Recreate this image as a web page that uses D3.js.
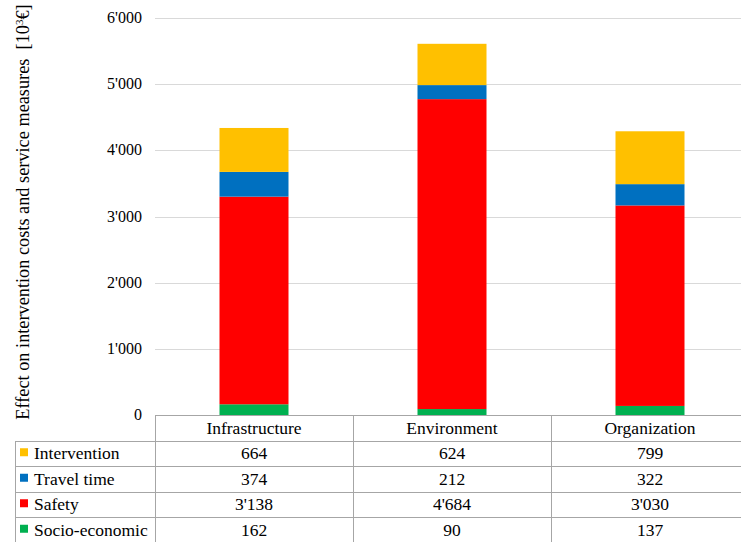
<!DOCTYPE html>
<html>
<head>
<meta charset="utf-8">
<script src="https://d3js.org/d3.v7.min.js"></script>
<style>
  body { margin: 0; background: #fff; }
  svg text { font-family: "Liberation Serif", "DejaVu Serif", serif; fill: #000; }
</style>
</head>
<body>
<div id="chart"></div>
<script>
"use strict"

var categories = ["Infrastructure", "Environment", "Organization"];
var series = ["Socio-economic", "Safety", "Travel time", "Intervention"];
var socioEconomic = [162, 90, 137];
var safety = [3138, 4684, 3030];
var travelTime = [374, 212, 322];
var intervention = [664, 624, 799];
var yTicks = [0, 1000, 2000, 3000, 4000, 5000, 6000];
var colors = ["#00B050", "#FF0000", "#0070C0", "#FFC000"];

var values = [socioEconomic, safety, travelTime, intervention];

var W = 741, H = 542;
var plotLeft = 155, plotRight = 749, plotTop = 18, plotBottom = 415;
var rowH = 25.5;
var serif = "'Liberation Serif', 'DejaVu Serif', serif";

var svg = d3.select("#chart").append("svg").attr("width", W).attr("height", H)
  .attr("font-family", serif);

var x = d3.scaleBand().domain(categories).range([plotLeft, plotRight]).paddingInner(0).paddingOuter(0);
var y = d3.scaleLinear().domain([0, 6000]).range([plotBottom, plotTop]);

var fmt = function(v) { return d3.format(",")(v).replace(/,/g, "'"); };

// grid
svg.append("g").selectAll("line").data(yTicks.filter(d => d > 0)).enter().append("line")
  .attr("x1", plotLeft).attr("x2", plotRight)
  .attr("y1", d => Math.round(y(d)) + 0.5).attr("y2", d => Math.round(y(d)) + 0.5)
  .attr("stroke", "#d9d9d9").attr("stroke-width", 1);

// tick labels
svg.append("g").selectAll("text").data(yTicks).enter().append("text")
  .attr("x", 142).attr("y", d => y(d) + 5)
  .attr("text-anchor", "end").attr("font-family", serif).style("font-size", "16px")
  .text(fmt);

// stacked bars
var rows = categories.map(function(c, i) {
  var r = {cat: c};
  series.forEach(function(s, j) { r[s] = values[j][i]; });
  return r;
});
var stacked = d3.stack().keys(series)(rows);
var barW = 69;

svg.append("g").selectAll("g").data(stacked).enter().append("g")
  .attr("fill", (d, i) => colors[i])
  .selectAll("rect").data(d => d).enter().append("rect")
    .attr("x", d => x(d.data.cat) + x.bandwidth() / 2 - barW / 2)
    .attr("width", barW)
    .attr("y", d => y(d[1]))
    .attr("height", d => y(d[0]) - y(d[1]));

// axis title
svg.append("text")
  .attr("transform", "translate(29," + 212 + ") rotate(-90)")
  .attr("text-anchor", "middle").attr("font-family", serif).style("font-size", "18.3px")
  .html("Effect on intervention costs and service measures&#160;&#160;[10<tspan dy='-6' font-size='11px'>3</tspan><tspan dy='6'>€]</tspan>");

// data table
var tbl = svg.append("g");
var border = "#a6a6a6";
var tableLeft = 15;

tbl.append("line").attr("x1", plotLeft).attr("x2", plotRight)
  .attr("y1", plotBottom + 0.5).attr("y2", plotBottom + 0.5).attr("stroke", border);
d3.range(1, 6).forEach(function(k) {
  tbl.append("line").attr("x1", tableLeft).attr("x2", plotRight)
    .attr("y1", Math.round(plotBottom + rowH * k) + 0.5).attr("y2", Math.round(plotBottom + rowH * k) + 0.5)
    .attr("stroke", border);
});
tbl.append("line").attr("x1", tableLeft + 0.5).attr("x2", tableLeft + 0.5)
  .attr("y1", Math.round(plotBottom + rowH) + 0.5).attr("y2", H).attr("stroke", border);
tbl.selectAll(".vl").data(categories).enter().append("line")
  .attr("x1", d => Math.round(x(d)) + 0.5).attr("x2", d => Math.round(x(d)) + 0.5)
  .attr("y1", plotBottom).attr("y2", H).attr("stroke", border);

// header
tbl.selectAll(".hd").data(categories).enter().append("text")
  .attr("x", d => x(d) + x.bandwidth() / 2)
  .attr("y", plotBottom + rowH / 2 + 6)
  .attr("text-anchor", "middle").attr("font-family", serif).style("font-size", "17.5px")
  .text(d => d);

// rows, top to bottom: Intervention, Travel time, Safety, Socio-economic
var order = [3, 2, 1, 0];
order.forEach(function(j, r) {
  var cy = plotBottom + rowH * (r + 1) + rowH / 2;
  tbl.append("rect").attr("x", 20).attr("y", cy - 5).attr("width", 8).attr("height", 8)
    .attr("fill", colors[j]);
  tbl.append("text").attr("x", 34).attr("y", cy + 6)
    .attr("font-family", serif).style("font-size", "17.5px").text(series[j]);
  tbl.selectAll(".v" + j).data(values[j]).enter().append("text")
    .attr("x", (d, i) => x(categories[i]) + x.bandwidth() / 2)
    .attr("y", cy + 6)
    .attr("text-anchor", "middle").attr("font-family", serif).style("font-size", "17.5px")
    .text(fmt);
});
</script>
</body>
</html>
